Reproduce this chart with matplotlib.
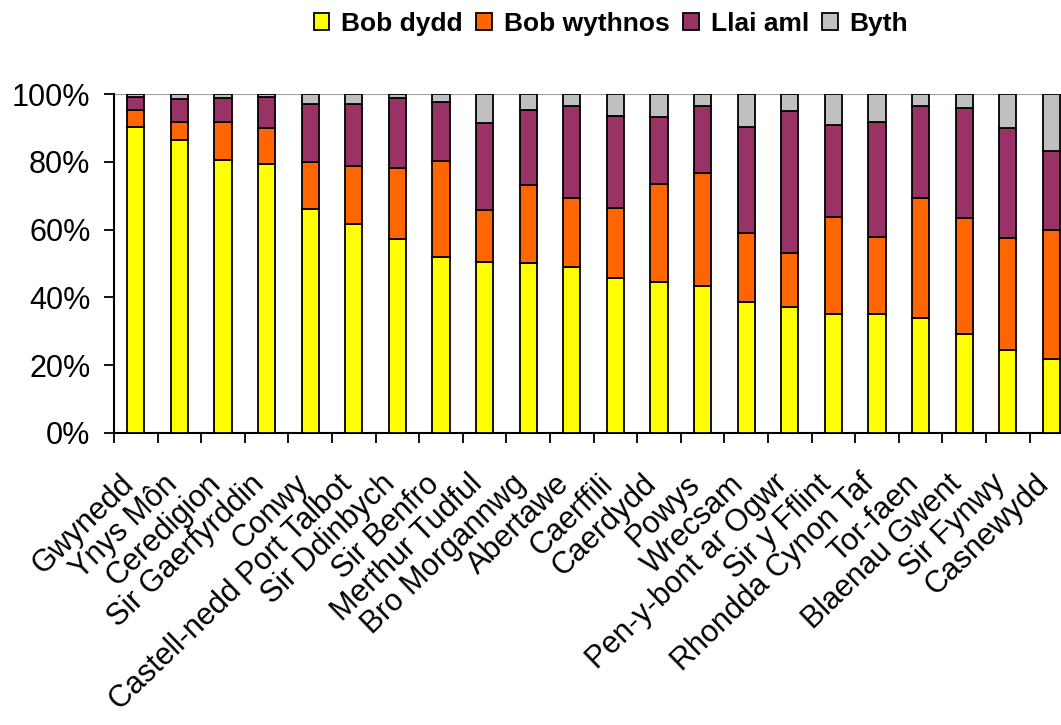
import matplotlib
matplotlib.use("Agg")
import matplotlib.pyplot as plt
import numpy as np
from matplotlib.ticker import FuncFormatter, FixedLocator
from matplotlib.transforms import ScaledTranslation

plt.rcParams['font.family'] = ['Liberation Sans', 'DejaVu Sans']

categories = ["Gwynedd", "Ynys Môn", "Ceredigion", "Sir Gaerfyrddin", "Conwy",
              "Castell-nedd Port Talbot", "Sir Ddinbych", "Sir Benfro", "Merthur Tudful",
              "Bro Morgannwg", "Abertawe", "Caerffili", "Caerdydd", "Powys", "Wrecsam",
              "Pen-y-bont ar Ogwr", "Sir y Fflint", "Rhondda Cynon Taf", "Tor-faen",
              "Blaenau Gwent", "Sir Fynwy", "Casnewydd"]

bob_dydd =    [90.2, 86.4, 80.6, 79.4, 66.0, 61.7, 57.2, 52.0, 50.5, 50.2, 49.1,
               45.6, 44.4, 43.4, 38.7, 37.2, 35.1, 35.1, 34.0, 29.3, 24.6, 21.7]
bob_wythnos = [5.0, 5.4, 11.0, 10.7, 14.0, 17.1, 21.1, 28.1, 15.4, 22.9, 20.1,
               20.9, 29.0, 33.4, 20.2, 15.8, 28.7, 22.8, 35.2, 34.0, 32.8, 38.1]
llai_aml =    [3.8, 6.7, 7.3, 9.0, 17.0, 18.3, 20.4, 17.4, 25.6, 22.1, 27.3,
               27.0, 19.8, 19.7, 31.3, 42.0, 27.2, 33.9, 27.2, 32.5, 32.5, 23.4]
byth =        [1.0, 1.5, 1.1, 0.9, 3.0, 2.9, 1.3, 2.5, 8.5, 4.8, 3.5,
               6.5, 6.8, 3.5, 9.8, 5.0, 9.0, 8.2, 3.6, 4.2, 10.1, 16.8]

series = [("Bob dydd", bob_dydd, "#FFFF00"),
          ("Bob wythnos", bob_wythnos, "#FF6600"),
          ("Llai aml", llai_aml, "#993366"),
          ("Byth", byth, "#C0C0C0")]

fig = plt.figure(figsize=(10.61, 7.25), dpi=100)
n = len(categories)
cat_w = 43.6
ax = fig.add_axes([114/1061, (725-433)/725, n*cat_w/1061, (433-94)/725])

x = np.arange(n)
bottom = np.zeros(n)
handles = []
for name, vals, col in series:
    v = np.array(vals)
    b = ax.bar(x, v, width=0.39, bottom=bottom, color=col, edgecolor='black',
               linewidth=1.3, label=name, zorder=3)
    handles.append(b)
    bottom += v

ax.set_xlim(-0.5, n - 0.5)
ax.set_ylim(0, 100)
ax.axhline(100, color='#A0A0A0', linewidth=1.5, zorder=1)

ax.yaxis.set_major_locator(FixedLocator([0, 20, 40, 60, 80, 100]))
ax.yaxis.set_major_formatter(FuncFormatter(lambda v, p: f"{int(v)}%"))
ax.tick_params(axis='y', labelsize=22, length=7, width=1.3, direction='out', pad=10)

ax.set_xticks(x)
ax.set_xticklabels(categories, rotation=44, ha='right', va='top',
                   rotation_mode='anchor', fontsize=22)
ax.tick_params(axis='x', length=0, pad=10)
offset = ScaledTranslation(-17/100, -22/100, fig.dpi_scale_trans)
for lab in ax.get_xticklabels():
    lab.set_transform(lab.get_transform() + offset)
ax.set_xticks(np.arange(n + 1) - 0.5, minor=True)
ax.tick_params(axis='x', which='minor', length=7, width=1.3, direction='out')

for s in ['top', 'right']:
    ax.spines[s].set_visible(False)
for s in ['left', 'bottom']:
    ax.spines[s].set_linewidth(1.5)

leg = fig.legend(handles=handles, labels=[s[0] for s in series], loc='center',
                 bbox_to_anchor=(611/1061, 1 - 24/725), ncol=4, frameon=False,
                 prop={'weight': 'bold', 'size': 19}, handlelength=0.6,
                 handleheight=0.6, handletextpad=0.45, columnspacing=0.5)

fig.savefig("out.png", dpi=100)
